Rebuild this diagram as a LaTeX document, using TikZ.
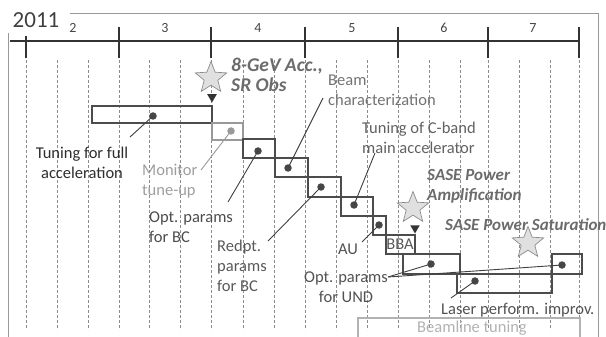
\documentclass[tikz,border=0pt]{standalone}
\usepackage{fontspec}
\setmainfont{Carlito}
\usepackage{tikz}
\usetikzlibrary{shapes.geometric}

\begin{document}
\begin{tikzpicture}[x=1pt,y=-1pt,
  lbl/.style={inner sep=0pt, font=\fontsize{16.5}{20}\selectfont, text=black!65, align=left},
  hot/.style={inner sep=0pt, font=\fontsize{17}{20}\selectfont\bfseries\itshape, text=black!58, align=left},
  bar/.style={draw=black!70, line width=1.1pt},
  dot/.style={circle, fill=black!72, inner sep=0pt, minimum size=7.5pt},
  leader/.style={draw=black!75, line width=0.9pt},
  grid/.style={draw=black!45, line width=0.7pt, dash pattern=on 3pt off 2pt},
  mstar/.style={star, star points=5, star point ratio=2.3, minimum size=33pt, inner sep=0pt, fill=black!12, draw=black!45, line width=0.7pt},
  flag/.style={regular polygon, regular polygon sides=3, shape border rotate=180, fill=black!80, inner sep=0pt, minimum size=11pt}]
\useasboundingbox (0,0) rectangle (606,337);
% frame
\draw[black!40, line width=0.9pt] (70,13) -- (598,13) -- (598,337);
\draw[black!40, line width=0.9pt] (8,33) -- (8,337);
\node[inner sep=0pt, font=\fontsize{23}{24}\selectfont, text=black!75] (year) at (36,20) {2011};
% month axis
\draw[black!80, line width=1.5pt] (10,41) -- (579,41);
\draw[black!80, line width=1.5pt] (26,36) -- (26,58);
\draw[black!80, line width=1.5pt] (119,27) -- (119,58);
\draw[black!80, line width=1.5pt] (211,27) -- (211,58);
\draw[black!80, line width=1.5pt] (305,27) -- (305,58);
\draw[black!80, line width=1.5pt] (398,27) -- (398,58);
\draw[black!80, line width=1.5pt] (488,27) -- (488,58);
\draw[black!80, line width=1.5pt] (579,27) -- (579,58);
\node[lbl, font=\fontsize{14}{15}\selectfont, text=black!72] (m2) at (73,28) {2};
\node[lbl, font=\fontsize{14}{15}\selectfont, text=black!72] (m3) at (165,28) {3};
\node[lbl, font=\fontsize{14}{15}\selectfont, text=black!72] (m4) at (258,28) {4};
\node[lbl, font=\fontsize{14}{15}\selectfont, text=black!72] (m5) at (352,28) {5};
\node[lbl, font=\fontsize{14}{15}\selectfont, text=black!72] (m6) at (444,28) {6};
\node[lbl, font=\fontsize{14}{15}\selectfont, text=black!72] (m7) at (533,28) {7};
% thirds of a month
\draw[grid] (26,60) -- (26,330);
\draw[grid] (57,60) -- (57,330);
\draw[grid] (88,60) -- (88,330);
\draw[grid] (119,60) -- (119,330);
\draw[grid] (149,60) -- (149,330);
\draw[grid] (180,60) -- (180,330);
\draw[grid] (211,60) -- (211,330);
\draw[grid] (243,60) -- (243,330);
\draw[grid] (274,60) -- (274,330);
\draw[grid] (305,60) -- (305,330);
\draw[grid] (336,60) -- (336,330);
\draw[grid] (367,60) -- (367,330);
\draw[grid] (398,60) -- (398,330);
\draw[grid] (429,60) -- (429,330);
\draw[grid] (460,60) -- (460,330);
\draw[grid] (488,60) -- (488,330);
\draw[grid] (519,60) -- (519,330);
\draw[grid] (550,60) -- (550,330);
\draw[grid] (579,60) -- (579,330);
% task bars
\draw[bar] (92,106) rectangle (212,123);
\draw[bar, draw=black!40] (212,123) rectangle (243,140);
\draw[bar] (243,139) rectangle (275,158);
\draw[bar] (275,158) rectangle (308,177);
\draw[bar] (308,177) rectangle (341,197);
\draw[bar] (341,197) rectangle (373,216);
\draw[bar] (373,216) rectangle (386,235);
\draw[bar] (386,235) rectangle (415,254);
\draw[bar] (403,254) rectangle (460,274);
\draw[bar] (457,274) rectangle (552,293);
\draw[bar] (552,254) rectangle (582,274);
\draw[bar, draw=black!30] (358,337) -- (358,318) -- (580,318) -- (580,337);
\node[lbl, text=black!65] (bba) at (400,244) {BBA};
% milestones
\node[mstar] (acc) at (211,78) {};
\node[mstar] (amp) at (413,208) {};
\node[mstar] (sat) at (528,243) {};
\node[flag] (accflag) at (212,97) {};
\node[flag] (ampflag) at (415,228) {};
\node[hot, font=\fontsize{19.5}{20}\selectfont\bfseries\itshape, anchor=west] (acclbl) at (231,75) {8-GeV Acc.,\\SR Obs};
\node[hot, anchor=west] (amplbl) at (427,186) {SASE Power\\Amplification};
\node[hot, anchor=west] (satlbl) at (445,225) {SASE Power Saturation};
% dots
\node[dot] (full) at (153,116) {};
\node[dot, fill=black!40] (mon) at (231,131) {};
\node[dot] (optbc) at (258,151) {};
\node[dot] (beam) at (288,168) {};
\node[dot] (reopt) at (321,187) {};
\node[dot] (cband) at (354,205) {};
\node[dot] (au) at (379,225) {};
\node[dot] (und1) at (431,264) {};
\node[dot] (laser) at (475,281) {};
\node[dot] (und2) at (562,265) {};
% labels
\node[lbl, text=black!82, align=center] (fulllbl) at (82,163) {Tuning for full\\acceleration};
\node[lbl, text=black!38, anchor=west] (monlbl) at (142,181) {Monitor\\tune-up};
\node[lbl, text=black!70, anchor=west] (optbclbl) at (149,227) {Opt. params\\for BC};
\node[lbl, text=black!65, anchor=west] (reoptlbl) at (217,266) {Redpt.\\params\\for BC};
\node[lbl, text=black!55, anchor=west] (beamlbl) at (328,90) {Beam\\characterization};
\node[lbl, text=black!62, anchor=west] (cbandlbl) at (362,138) {Tuning of C-band\\main accelerator};
\node[lbl, text=black!68] (aulbl) at (348,249) {AU};
\node[lbl, text=black!68, align=center] (undlbl) at (346,287) {Opt. params\\for UND};
\node[lbl, text=black!68, anchor=west] (laserlbl) at (441,310) {Laser perform. improv.};
\node[lbl, text=black!30] (bltlbl) at (472,328) {Beamline tuning};
% leaders
\coordinate (fullend) at (130,137);
\coordinate (monend) at (201,170);
\coordinate (optbcend) at (228,202);
\coordinate (beamend) at (323,98);
\coordinate (reoptend) at (268,241);
\coordinate (cbandend) at (375,153);
\coordinate (auend) at (362,242);
\coordinate (undend) at (388,277);
\coordinate (laserend) at (451,298);
\draw[leader] (fullend) -- (full.center);
\draw[leader, draw=black!40] (monend) -- (mon.center);
\draw[leader] (optbcend) -- (optbc.center);
\draw[leader] (beamend) -- (beam.center);
\draw[leader] (reoptend) -- (reopt.center);
\draw[leader] (cbandend) -- (cband.center);
\draw[leader] (auend) -- (au.center);
\draw[leader] (undend) -- (und1.center);
\draw[leader] (undend) -- (und2.center);
\draw[leader] (laserend) -- (laser.center);
\end{tikzpicture}
\end{document}
